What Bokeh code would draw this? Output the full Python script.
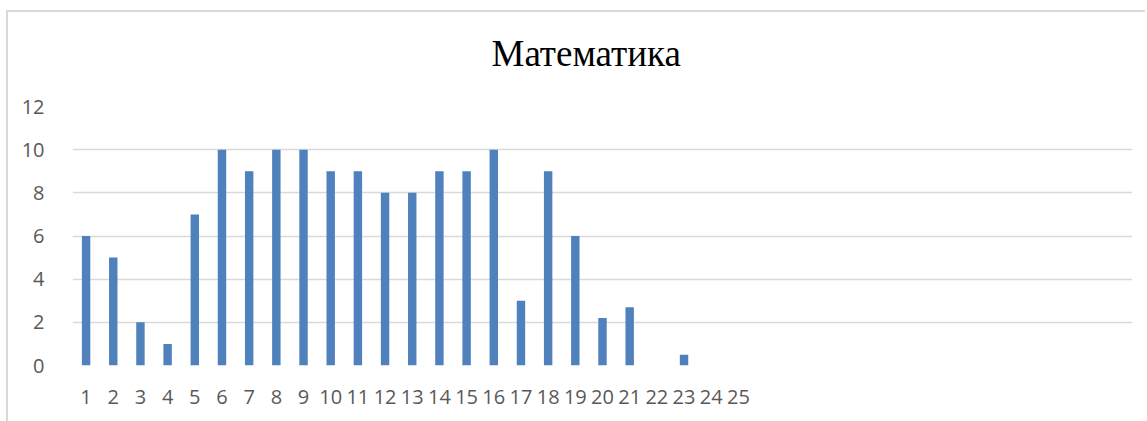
from bokeh.plotting import figure
from bokeh.models import FixedTicker, Range1d, Title
from bokeh.embed import file_html
from bokeh.resources import INLINE

# ---- data ----
categories = list(range(1, 26))
values = [6, 5, 2, 1, 7, 10, 9, 10, 10, 9, 9, 8, 8, 9, 9, 10, 3, 9, 6, 2.2, 2.7, 0, 0.5, 0, 0]
y_ticks = [0, 2, 4, 6, 8, 10, 12]
n_slots = 39
title_text = "Математика"

p = figure(width=1139, height=411, output_backend="svg", toolbar_location=None,
           title=None,
           x_range=Range1d(0.5, n_slots + 0.5), y_range=Range1d(0, 12),
           min_border_left=64, min_border_right=15, min_border_top=92,
           min_border_bottom=60)

p.styles = {"border-left": "2px solid #d9d9d9", "border-top": "2px solid #d9d9d9",
            "box-sizing": "border-box", "padding-top": "2px",
            "margin-left": "6px", "margin-top": "10px"}

p.vbar(x=categories, top=values, width=0.31, bottom=0,
       fill_color="#4f81bd", line_color=None)

# spacer between frame and title (added first -> closest to the frame)
spacer = Title(text=" ", text_font_size="1px", standoff=25)
p.add_layout(spacer, "above")

main_title = Title(text=title_text, align="left", offset=419,
                   text_font="Liberation Serif", text_font_size="37px",
                   text_font_style="normal", text_color="#000000", standoff=10)
p.add_layout(main_title, "above")

p.outline_line_color = None
p.background_fill_color = "white"
p.border_fill_color = "white"

p.xgrid.grid_line_color = None
p.ygrid.grid_line_color = "#d9d9d9"
p.ygrid.grid_line_width = 1.5
p.yaxis.ticker = FixedTicker(ticks=y_ticks)
p.xaxis.ticker = FixedTicker(ticks=categories)

for ax in (p.xaxis[0], p.yaxis[0]):
    ax.axis_line_color = None
    ax.major_tick_line_color = None
    ax.minor_tick_line_color = None
    ax.major_label_text_font = "Open Sans"
    ax.major_label_text_font_size = "20px"
    ax.major_label_text_color = "#595959"

p.yaxis.major_label_standoff = 22
p.xaxis.major_label_standoff = 18

open("out.html", "w").write(file_html(p, INLINE))
